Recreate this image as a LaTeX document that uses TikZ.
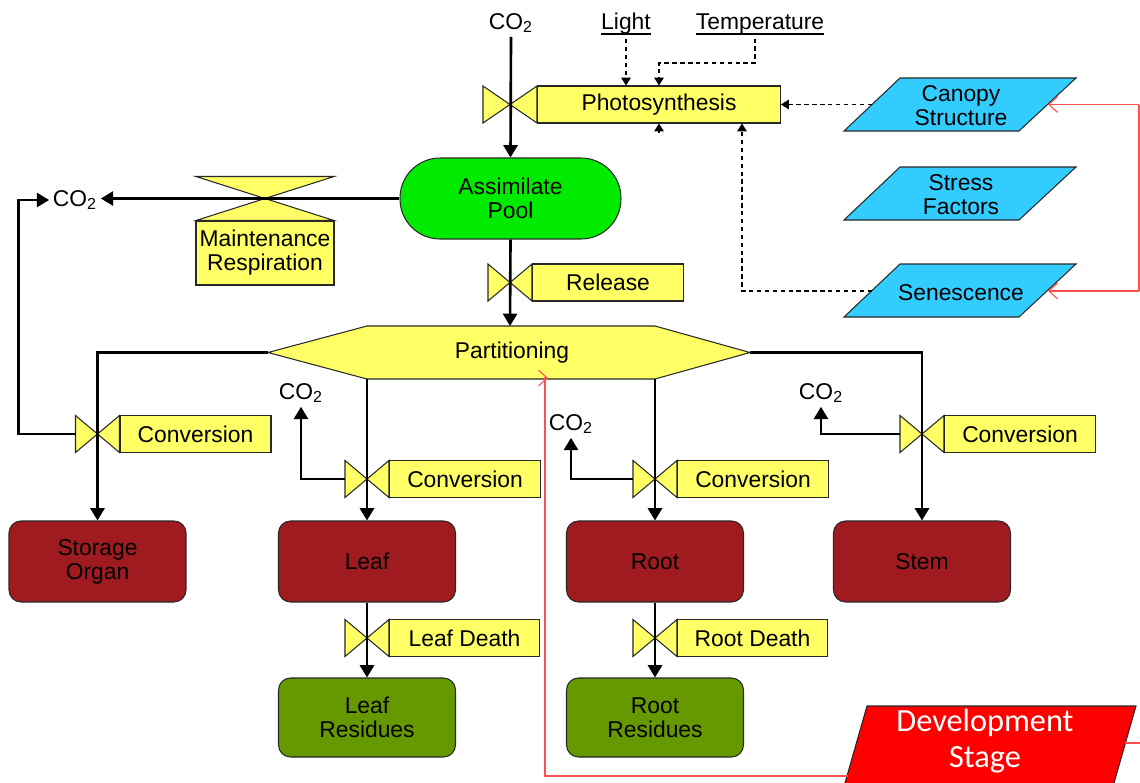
\documentclass[tikz,border=0pt]{standalone}
\usepackage{fontspec}
\setmainfont{Liberation Sans}
\newfontfamily\devfont{Carlito}
\usetikzlibrary{arrows.meta}

\definecolor{rateyellow}{RGB}{255,255,102}
\definecolor{poolgreen}{RGB}{0,235,0}
\definecolor{organred}{RGB}{160,27,31}
\definecolor{residuegreen}{RGB}{102,153,0}
\definecolor{drivercyan}{RGB}{51,204,255}
\definecolor{devred}{RGB}{255,0,0}
\definecolor{devline}{RGB}{255,80,80}
\definecolor{edgegray}{RGB}{40,40,40}

\tikzset{
  every node/.style={font=\fontsize{13}{13.6}\selectfont, inner sep=0pt, align=center},
  ratebox/.style={draw=edgegray, fill=rateyellow, line width=0.6pt, anchor=west,
    minimum width=3.02cm, minimum height=0.74cm},
  valve/.style={draw=edgegray, fill=rateyellow, line width=0.6pt},
  organ/.style={draw=edgegray, fill=organred, rounded corners=0.24cm, line width=0.6pt,
    minimum width=3.54cm, minimum height=1.62cm},
  residue/.style={organ, fill=residuegreen, minimum height=1.58cm},
  driver/.style={draw=edgegray, fill=drivercyan, line width=0.6pt},
  gas/.style={inner sep=2pt},
  flow/.style={line width=1.5pt, -{Triangle[length=7pt,width=8pt]}},
  info/.style={line width=0.6pt, dash pattern=on 2.5pt off 2pt,
    -{Triangle[length=4.5pt,width=5.5pt]}},
  devflow/.style={devline, line width=0.6pt, -{Straight Barb[length=5pt,width=9pt]}},
}

% rate valve on a vertical flow: name, x, y, half width
\newcommand{\flowvalve}[4]{%
  \coordinate (#1) at (#2,#3);
  \coordinate (#1W) at (#2-#4,#3);
  \filldraw[valve] (#1) -- ++(-#4,-18.5) -- ++(0,37) -- cycle
                   (#1) -- ++(#4,-18.5) -- ++(0,37) -- cycle;}
% thick underline for the outside inputs
\newcommand{\inputname}[1]{\setbox0\hbox{#1}\rlap{\vrule width\wd0 height -2.2pt depth 3.2pt}\box0}

\begin{document}
\begin{tikzpicture}[x=0.02cm, y=-0.02cm]
\useasboundingbox (0,0) rectangle (1140,782);

% top inputs
\node[gas] (co2top) at (511,23) {CO\textsubscript{2}};
\node (light) at (626,24) {\inputname{Light}};
\node (temp) at (760,24) {\inputname{Temperature}};

% photosynthesis, pool, maintenance
\flowvalve{phv}{510}{104.5}{27}
\node[ratebox, minimum width=4.86cm] (photo) at (537,104.5) {Photosynthesis};
\node[draw=edgegray, fill=poolgreen, line width=0.6pt, rounded corners=0.8cm,
  minimum width=4.42cm, minimum height=1.62cm] (pool) at (510.5,198.5) {Assimilate\\Pool};

\coordinate (mrv) at (265,198.5);
\filldraw[valve] (mrv) -- ++(-69,-22) -- ++(138,0) -- cycle
                 (mrv) -- ++(-69,22) -- ++(138,0) -- cycle;
\node[ratebox, anchor=north, minimum width=2.76cm, minimum height=1.28cm] (maint)
  at (265,220.5) {Maintenance\\Respiration};
\node[gas] (co2mr) at (75,200) {CO\textsubscript{2}};

\flowvalve{rlv}{510}{282.5}{22}
\node[ratebox] (release) at (532,282.5) {Release};

% partitioning
\filldraw[valve] (268,352.5) -- (367,326) -- (655,326) -- (750,352.5)
  -- (655,379) -- (367,379) -- cycle;
\node (part) at (512,353) {Partitioning};
\coordinate (partN) at (510,326);
\coordinate (partW) at (268,352.5);
\coordinate (partE) at (750,352.5);
\coordinate (partSW) at (367,379);
\coordinate (partSE) at (655,379);

% organs
\node[organ] (storage) at (97.5,561.5) {Storage\\Organ};
\node[organ] (leaf) at (367,561.5) {Leaf};
\node[organ] (root) at (655,561.5) {Root};
\node[organ] (stem) at (922,561.5) {Stem};
\node[residue] (leafres) at (367,717.5) {Leaf\\Residues};
\node[residue] (rootres) at (655,717.5) {Root\\Residues};

\flowvalve{sv}{97.5}{434}{22}
\node[ratebox] (convS) at (119.5,434) {Conversion};
\flowvalve{lv}{367}{479}{22}
\node[ratebox] (convL) at (389,479) {Conversion};
\flowvalve{rv}{655}{479}{22}
\node[ratebox] (convR) at (677,479) {Conversion};
\flowvalve{tv}{922}{434}{22}
\node[ratebox] (convT) at (944,434) {Conversion};
\flowvalve{ldv}{367}{638}{22}
\node[ratebox, minimum width=3cm] (deathL) at (389,638) {Leaf Death};
\flowvalve{rdv}{655}{638}{22}
\node[ratebox, minimum width=3cm] (deathR) at (677,638) {Root Death};

\node[gas] (co2leaf) at (301,393) {CO\textsubscript{2}};
\node[gas] (co2root) at (571,424) {CO\textsubscript{2}};
\node[gas] (co2stem) at (821,393) {CO\textsubscript{2}};

% state drivers
\filldraw[driver] (900,78) -- (1076,78) -- (1019,131) -- (844,131) -- cycle;
\node (canopy) at (961,105.5) {Canopy\\Structure};
\filldraw[driver] (900,167) -- (1076,167) -- (1019,220) -- (844,220) -- cycle;
\node (stress) at (961,195) {Stress\\Factors};
\filldraw[driver] (900,264) -- (1076,264) -- (1019,317) -- (844,317) -- cycle;
\node (senes) at (961,293) {Senescence};
\coordinate (canopyW) at (872,104.5);
\coordinate (canopyE) at (1048,104.5);
\coordinate (senW) at (872,291);
\coordinate (senE) at (1048,291);

\filldraw[draw=edgegray, fill=devred, line width=0.6pt]
  (867,706) -- (1136,706) -- (1112,790) -- (843,790) -- cycle;
\node[font=\devfont\fontsize{18.4}{21}\selectfont, text=white] (dev) at (985,741)
  {Development\\Stage};
\coordinate (devW) at (848,776);
\coordinate (devE) at (1125,743);

% material flows
\draw[flow] (co2top.south) -- (pool.north);
\draw[flow] (pool.west) -- (pool.west -| co2mr.east);
\draw[flow] (pool.south) -- (partN);
\draw[flow] (partW) -| (storage.north);
\draw[flow] (partSW) -- (leaf.north);
\draw[flow] (partSE) -- (root.north);
\draw[flow] (partE) -| (stem.north);
\draw[flow] (leaf.south) -- (leafres.north);
\draw[flow] (root.south) -- (rootres.north);
\draw[flow] (svW) -- ++(-57,0) |- (co2mr.west);
\draw[flow] (lvW) -| (co2leaf.south);
\draw[flow] (rvW) -| (co2root.south);
\draw[flow] (tvW) -| (co2stem.south);

% information flows
\coordinate (tempknee) at (755,63);
\coordinate (senknee) at (742,291);
\draw[info] ([yshift=-2pt]light.south) -- (light.south |- photo.north);
\draw[info] ([yshift=-2pt]tempknee |- temp.south) -- (tempknee) -| (photo.north);
\draw[info] (canopyW) -- (photo.east);
\draw[info] (senW) -- (senknee) -- (senknee |- photo.south);
\draw[info, solid] ([yshift=-0.18cm]photo.south) -- (photo.south);

% development stage
\draw[devflow] (devW) -- (545,776) -- (545,378) -- (548,378);
\draw[devline, line width=0.6pt] (devE) -- (1141,743);
\draw[devline, line width=0.6pt] (1139,291) -- (1139,104.5);
\draw[devflow] (1139,104.5) -- (canopyE);
\draw[devflow] (1139,291) -- (senE);
\end{tikzpicture}
\end{document}
